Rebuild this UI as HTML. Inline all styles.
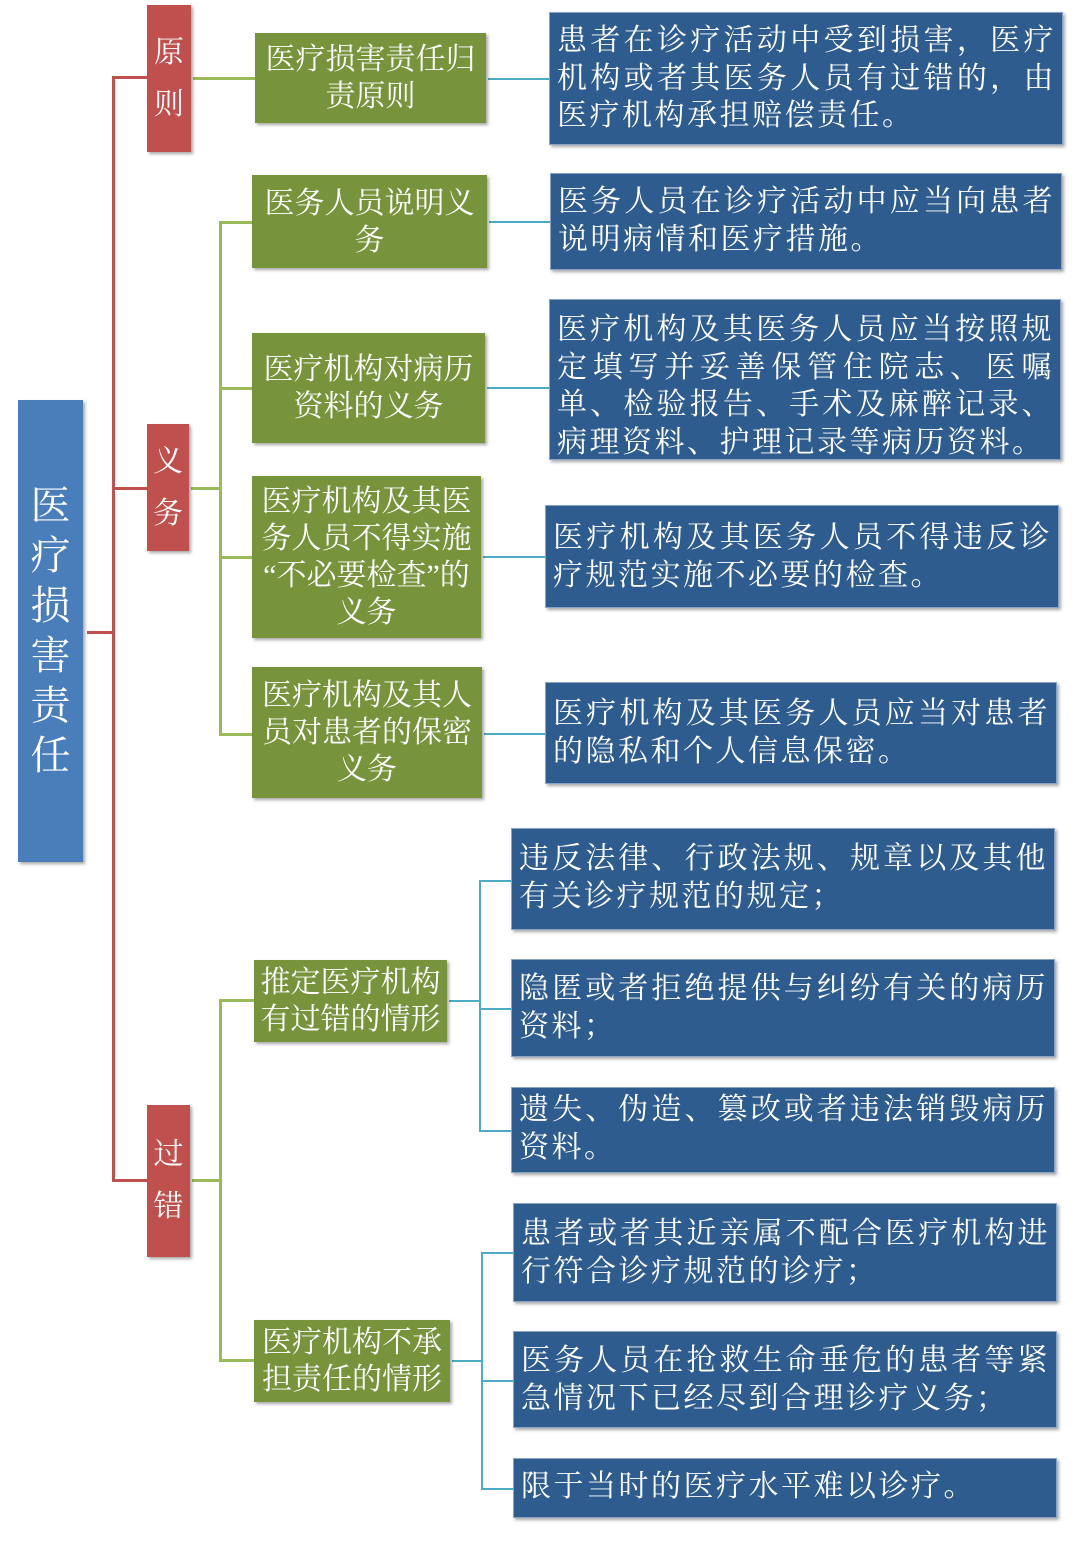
<!DOCTYPE html>
<html><head><meta charset="utf-8"><style>
body{margin:0;width:1080px;height:1555px;background:#fff;position:relative;overflow:hidden;font-family:"Liberation Serif","Noto Serif CJK SC",serif;}
.b{position:absolute;box-sizing:border-box;color:#fff;box-shadow:2px 2px 3px rgba(0,0,0,.35);}
.root{background:#4a7ebb;font-size:40px;line-height:50px;text-align:center;display:flex;align-items:center;justify-content:center;}
.red{background:#c0504d;font-size:30px;line-height:52px;text-align:center;display:flex;align-items:center;justify-content:center;}
.g{background:#77933c;font-size:30px;line-height:37px;text-align:center;display:flex;align-items:center;justify-content:center;padding:0 4px;}
.bl{background:#2f5c8f;border:1px solid #8aa3c4;font-size:30px;line-height:37.5px;text-align:justify;padding:4px 6px 0 7px;display:flex;align-items:flex-start;letter-spacing:2.5px;}
.bl span{display:block;width:100%;text-align:justify;}
.l{position:absolute;}
.r{background:#c0504d;}
.gr{background:#9bbb59;}
.c{background:#4bacc6;}
</style></head><body>
<div class="l r" style="left:112px;top:76px;width:3px;height:1106px"></div>
<div class="l r" style="left:87px;top:631px;width:27px;height:3px"></div>
<div class="l r" style="left:112px;top:76px;width:35px;height:3px"></div>
<div class="l r" style="left:112px;top:487px;width:35px;height:3px"></div>
<div class="l r" style="left:112px;top:1179px;width:35px;height:3px"></div>
<div class="l gr" style="left:193px;top:77px;width:62px;height:3px"></div>
<div class="l gr" style="left:191px;top:487px;width:30px;height:3px"></div>
<div class="l gr" style="left:219px;top:221px;width:3px;height:515px"></div>
<div class="l gr" style="left:219px;top:221px;width:33px;height:3px"></div>
<div class="l gr" style="left:219px;top:387px;width:33px;height:3px"></div>
<div class="l gr" style="left:219px;top:556px;width:33px;height:3px"></div>
<div class="l gr" style="left:219px;top:733px;width:33px;height:3px"></div>
<div class="l gr" style="left:192px;top:1179px;width:29px;height:3px"></div>
<div class="l gr" style="left:219px;top:999px;width:3px;height:363px"></div>
<div class="l gr" style="left:219px;top:999px;width:35px;height:3px"></div>
<div class="l gr" style="left:219px;top:1359px;width:35px;height:3px"></div>
<div class="l c" style="left:488px;top:78px;width:61px;height:1.5px"></div>
<div class="l c" style="left:489px;top:221px;width:61px;height:1.5px"></div>
<div class="l c" style="left:487px;top:387px;width:62px;height:1.5px"></div>
<div class="l c" style="left:483px;top:556px;width:62px;height:1.5px"></div>
<div class="l c" style="left:484px;top:733px;width:61px;height:1.5px"></div>
<div class="l c" style="left:449px;top:1000px;width:31px;height:1.5px"></div>
<div class="l c" style="left:479px;top:880px;width:1.5px;height:250px"></div>
<div class="l c" style="left:479px;top:880px;width:32px;height:1.5px"></div>
<div class="l c" style="left:479px;top:1008px;width:32px;height:1.5px"></div>
<div class="l c" style="left:479px;top:1130px;width:32px;height:1.5px"></div>
<div class="l c" style="left:452px;top:1360px;width:30px;height:1.5px"></div>
<div class="l c" style="left:481px;top:1252px;width:1.5px;height:236px"></div>
<div class="l c" style="left:481px;top:1252px;width:32px;height:1.5px"></div>
<div class="l c" style="left:481px;top:1380px;width:32px;height:1.5px"></div>
<div class="l c" style="left:481px;top:1488px;width:32px;height:1.5px"></div>

<div class="b root" style="left:18px;top:400px;width:65px;height:462px">医<br>疗<br>损<br>害<br>责<br>任</div>
<div class="b red" style="left:147px;top:5px;width:44px;height:147px">原<br>则</div>
<div class="b red" style="left:147px;top:424px;width:42px;height:127px">义<br>务</div>
<div class="b red" style="left:147px;top:1105px;width:43px;height:152px">过<br>错</div>

<div class="b g" style="left:255px;top:33px;width:231px;height:90px">医疗损害责任归<br>责原则</div>
<div class="b g" style="left:252px;top:175px;width:235px;height:93px">医务人员说明义<br>务</div>
<div class="b g" style="left:252px;top:333px;width:233px;height:110px">医疗机构对病历<br>资料的义务</div>
<div class="b g" style="left:252px;top:476px;width:229px;height:162px">医疗机构及其医<br>务人员不得实施<br>“不必要检查”的<br>义务</div>
<div class="b g" style="left:252px;top:667px;width:230px;height:131px">医疗机构及其人<br>员对患者的保密<br>义务</div>
<div class="b g" style="left:254px;top:960px;width:193px;height:82px">推定医疗机构<br>有过错的情形</div>
<div class="b g" style="left:254px;top:1320px;width:196px;height:82px">医疗机构不承<br>担责任的情形</div>

<div class="b bl" style="left:549px;top:12px;width:514px;height:133px;padding-top:9px"><span>患者在诊疗活动中受到损害，医疗机构或者其医务人员有过错的，由医疗机构承担赔偿责任。</span></div>
<div class="b bl" style="left:550px;top:173px;width:512px;height:97px;padding-top:9px"><span>医务人员在诊疗活动中应当向患者说明病情和医疗措施。</span></div>
<div class="b bl" style="left:549px;top:299px;width:512px;height:161px;padding-top:11px"><span>医疗机构及其医务人员应当按照规定填写并妥善保管住院志、医嘱单、检验报告、手术及麻醉记录、病理资料、护理记录等病历资料。</span></div>
<div class="b bl" style="left:545px;top:505px;width:514px;height:103px;padding-top:13px"><span>医疗机构及其医务人员不得违反诊疗规范实施不必要的检查。</span></div>
<div class="b bl" style="left:545px;top:682px;width:512px;height:102px;padding-top:12px"><span>医疗机构及其医务人员应当对患者的隐私和个人信息保密。</span></div>
<div class="b bl" style="left:511px;top:828px;width:544px;height:102px;padding-top:11px"><span>违反法律、行政法规、规章以及其他有关诊疗规范的规定；</span></div>
<div class="b bl" style="left:511px;top:959px;width:544px;height:98px;padding-top:10px"><span>隐匿或者拒绝提供与纠纷有关的病历资料；</span></div>
<div class="b bl" style="left:511px;top:1087px;width:544px;height:86px;padding-top:3px"><span>遗失、伪造、篡改或者违法销毁病历资料。</span></div>
<div class="b bl" style="left:513px;top:1203px;width:544px;height:99px;padding-top:11px"><span>患者或者其近亲属不配合医疗机构进行符合诊疗规范的诊疗；</span></div>
<div class="b bl" style="left:513px;top:1331px;width:544px;height:97px;padding-top:10px"><span>医务人员在抢救生命垂危的患者等紧急情况下已经尽到合理诊疗义务；</span></div>
<div class="b bl" style="left:513px;top:1458px;width:544px;height:60px;padding-top:9px"><span>限于当时的医疗水平难以诊疗。</span></div>
</body></html>
